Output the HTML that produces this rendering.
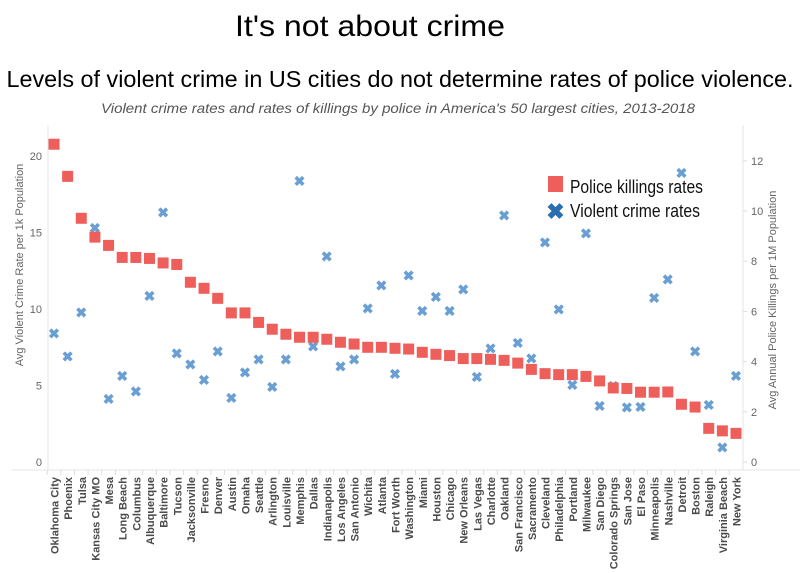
<!DOCTYPE html>
<html><head><meta charset="utf-8"><style>
html,body{margin:0;padding:0;background:#fff;}
svg{display:block;font-family:"Liberation Sans",sans-serif;}
</style></head><body>
<svg id="chart" width="800" height="573" viewBox="0 0 800 573">
<text x="370" y="36" text-anchor="middle" font-size="30" fill="#000" textLength="270" lengthAdjust="spacingAndGlyphs">It's not about crime</text>
<text x="400" y="87" text-anchor="middle" font-size="23" fill="#000" textLength="787" lengthAdjust="spacingAndGlyphs">Levels of violent crime in US cities do not determine rates of police violence.</text>
<text x="398" y="113" text-anchor="middle" font-size="14" font-style="italic" fill="#555" textLength="594" lengthAdjust="spacingAndGlyphs">Violent crime rates and rates of killings by police in America's 50 largest cities, 2013-2018</text>
<g id="axes"></g>
<g id="marks"></g>
<g>
<rect x="548" y="176" width="15" height="16" fill="#ee5f5b"/>
<text x="570" y="193" font-family="'Liberation Sans Narrow','Liberation Sans',sans-serif" font-size="18" fill="#111" textLength="133" lengthAdjust="spacingAndGlyphs">Police killings rates</text>
<text x="555.5" y="219" text-anchor="middle" font-size="22" font-weight="bold" fill="#2b6fb0">✖</text>
<text x="570" y="217" font-family="'Liberation Sans Narrow','Liberation Sans',sans-serif" font-size="18" fill="#111" textLength="130" lengthAdjust="spacingAndGlyphs">Violent crime rates</text>
</g>
</svg>
<script>
const cities = ["Oklahoma City","Phoenix","Tulsa","Kansas City MO","Mesa","Long Beach","Columbus","Albuquerque","Baltimore","Tucson","Jacksonville","Fresno","Denver","Austin","Omaha","Seattle","Arlington","Louisville","Memphis","Dallas","Indianapolis","Los Angeles","San Antonio","Wichita","Atlanta","Fort Worth","Washington","Miami","Houston","Chicago","New Orleans","Las Vegas","Charlotte","Oakland","San Francisco","Sacramento","Cleveland","Philadelphia","Portland","Milwaukee","San Diego","Colorado Springs","San Jose","El Paso","Minneapolis","Nashville","Detroit","Boston","Raleigh","Virginia Beach","New York"];
const policeRates = [12.66,11.38,9.71,8.96,8.63,8.15,8.15,8.11,7.93,7.87,7.16,6.92,6.52,5.94,5.94,5.56,5.29,5.09,4.97,4.97,4.89,4.77,4.70,4.57,4.57,4.53,4.50,4.37,4.29,4.24,4.12,4.12,4.09,4.05,3.94,3.69,3.52,3.48,3.48,3.41,3.23,2.95,2.93,2.78,2.78,2.79,2.30,2.19,1.34,1.24,1.14];
const crimeRates = [8.41,6.91,9.78,15.29,4.12,5.62,4.62,10.85,16.32,7.10,6.38,5.36,7.23,4.18,5.86,6.71,4.90,6.71,18.35,7.54,13.44,6.25,6.71,10.04,11.55,5.75,12.20,9.87,10.78,9.87,11.29,5.56,7.43,16.12,7.78,6.78,14.34,9.98,5.03,14.94,3.66,4.97,3.55,3.59,10.72,11.94,18.89,7.23,3.73,0.96,5.62];
const leftTicks = [0,5,10,15,20];
const rightTicks = [0,2,4,6,8,10,12];

const NS="http://www.w3.org/2000/svg";
const x0=54, x1=736;
function xPos(i){return x0+(x1-x0)*i/(cities.length-1);}
function yLeft(v){return 462-v*15.3;}
function yRight(v){return 462-v*25.1;}
function mk(tag,attrs,parent,text){const e=document.createElementNS(NS,tag);for(const k in attrs)e.setAttribute(k,attrs[k]);if(text!==undefined)e.textContent=text;parent.appendChild(e);return e;}
const axes=document.getElementById('axes'), marks=document.getElementById('marks');
let e;
e=mk('line',{x1:48,y1:125,x2:48,y2:470,stroke:'#e4e4e4'},axes);


e=mk('line',{x1:743,y1:125,x2:743,y2:470,stroke:'#e4e4e4'},axes);


e=mk('line',{x1:12,y1:470,x2:800,y2:470,stroke:'#e4e4e4'},axes);


leftTicks.forEach(t=>{
  e=mk('text',{x:42,y:yLeft(t)+4,'text-anchor':'end','font-size':11,fill:'#666'},axes,String(t));
  
  
});
rightTicks.forEach(t=>{
  e=mk('line',{x1:743,x2:747,y1:yRight(t),y2:yRight(t),stroke:'#ddd'},axes);
  
  
  e=mk('text',{x:751,y:yRight(t)+4,'font-size':11,fill:'#666'},axes,String(t));
  
  
});
e=mk('text',{x:0,y:0,transform:'translate(23,265) rotate(-90)','text-anchor':'middle','font-size':11,fill:'#666'},axes,'Avg Violent Crime Rate per 1k Population');


e=mk('text',{x:0,y:0,transform:'translate(776,300) rotate(-90)','text-anchor':'middle','font-size':11,fill:'#666'},axes,'Avg Annual Police Killings per 1M Population');


cities.forEach((c,i)=>{
  const x=xPos(i);
  e=mk('line',{x1:x-6.8,x2:x-6.8,y1:470,y2:475,stroke:'#ddd'},axes);
  
  
  e=mk('text',{x:0,y:0,transform:`translate(${x+4.5},477) rotate(-90)`,'text-anchor':'end','font-size':11,'font-weight':'bold',fill:'#4a4a4a'},axes,c);
  
  
});
crimeRates.forEach((v,i)=>{
  e=mk('text',{x:xPos(i),y:yLeft(v)+5,'text-anchor':'middle','font-size':14,'font-weight':'bold',fill:'#6a9fd4'},marks,'✖');
  
  
});
policeRates.forEach((v,i)=>{
  e=mk('rect',{x:xPos(i)-5.5,y:yRight(v)-5.5,width:11,height:11,fill:'#ee5f5b'},marks);
  
  
});
</script>
</body></html>
